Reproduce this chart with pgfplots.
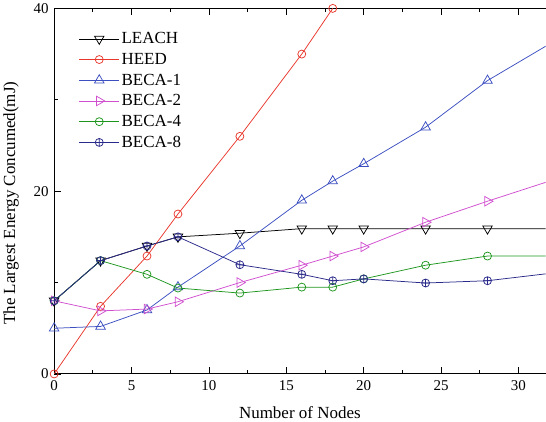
\documentclass[border=0pt]{standalone}
\usepackage{fontspec}
\setmainfont{Liberation Serif}
\usepackage{pgfplots}
\pgfplotsset{compat=1.18}
\definecolor{cLeach}{HTML}{000000}
\definecolor{cHeed}{HTML}{E8372C}
\definecolor{cB1}{HTML}{3C4FC0}
\definecolor{cB2}{HTML}{D04FCF}
\definecolor{cB4}{HTML}{1E961E}
\definecolor{cB8}{HTML}{2A2A8A}
\begin{document}
\begin{tikzpicture}
\begin{axis}[scale only axis,width=492pt,height=366pt,
 xmin=0,xmax=31.75,ymin=0,ymax=40,
 axis x line*=box,axis y line*=left,
 xtick={0,5,...,30},ytick={0,20,40},
 minor xtick={2.5,7.5,...,30},minor ytick={10,30},
 tick align=inside,major tick length=7pt,minor tick length=4pt,
 tick style={black,line width=0.8pt},axis line style={black,line width=0.9pt},
 /pgf/number format/assume math mode=true,
 tick label style={font=\fontsize{15}{17}\selectfont},
 xticklabel style={yshift=-3pt},yticklabel style={xshift=-2pt},
 label style={font=\fontsize{17}{20}\selectfont},
 xlabel={Number of Nodes},ylabel={The Largest Energy Concumed(mJ)},
 xlabel style={yshift=-9pt},ylabel style={yshift=8pt,xshift=-12pt},
 legend style={draw=none,fill=none,at={(0.05,0.94)},anchor=north west,
  font=\fontsize{17}{20}\selectfont,row sep=4pt,inner sep=0pt},
 legend cell align=left,
 legend image code/.code={\draw[mark repeat=2,mark phase=2] plot coordinates {(0pt,0pt)(20pt,0pt)(40pt,0pt)};},
 every axis plot/.append style={line width=0.75pt,mark size=4pt,mark options={solid,fill=white}},
]
\addplot[cLeach,mark=triangle,mark size=5.5pt,mark options={rotate=180}] coordinates {(0,8)(3,12.4)(6,14)(8,15)(12,15.4)(16,15.9)(18,15.9)(20,15.9)(24,15.9)(28,15.9)(32,15.9)};
\addlegendentry{LEACH}
\addplot[cHeed,mark=o] coordinates {(0,0)(3,7.4)(6,12.9)(8,17.5)(12,26)(16,35)(18,40)};
\addlegendentry{HEED}
\addplot[cB1,mark=triangle,mark size=5.5pt] coordinates {(0,5)(3,5.2)(6,7)(8,9.5)(12,14)(16,19)(18,21.1)(20,23)(24,27)(28,32.1)(32,36.1)};
\addlegendentry{BECA-1}
\addplot[cB2,mark=triangle,mark size=5.5pt,mark options={rotate=-90}] coordinates {(0,8)(3,6.9)(6,7.1)(8,7.9)(12,10)(16,11.9)(18,12.9)(20,13.9)(24,16.6)(28,18.9)(32,21.1)};
\addlegendentry{BECA-2}
\addplot[cB4,mark=o] coordinates {(0,8)(3,12.4)(6,10.9)(8,9.4)(12,8.85)(16,9.5)(18,9.5)(20,10.4)(24,11.9)(28,12.9)(32,12.9)};
\addlegendentry{BECA-4}
\addplot[cB8,mark=oplus] coordinates {(0,8)(3,12.4)(6,14)(8,15)(12,11.95)(16,10.9)(18,10.2)(20,10.4)(24,9.95)(28,10.2)(32,11)};
\addlegendentry{BECA-8}
\end{axis}
\end{tikzpicture}
\end{document}
